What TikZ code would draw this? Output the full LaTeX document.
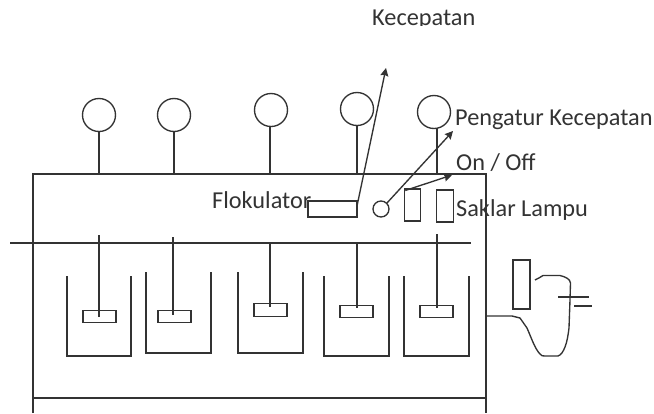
\documentclass[tikz,border=0pt]{standalone}
\usepackage{fontspec}
\setmainfont{Carlito}
\usetikzlibrary{arrows.meta}
\definecolor{ink}{HTML}{333333}
\tikzset{
  ln/.style={draw=ink,line width=1.35pt},
  knob/.style={circle,ln,minimum size=33pt,inner sep=0pt,outer sep=0pt},
  box/.style={rectangle,ln,inner sep=0pt,outer sep=0pt},
  paddle/.style={box,minimum width=33pt,minimum height=12.5pt},
  tall/.style={box,minimum width=16.5pt,minimum height=32pt},
  lamp/.style={circle,ln,minimum size=16pt,inner sep=0pt,outer sep=0pt},
  lbl/.style={anchor=base west,inner sep=0pt,text=ink,font=\fontsize{24.3}{26}\selectfont},
  arr/.style={ln,-{Stealth[length=8pt,width=8pt,inset=1pt]}},
}
\begin{document}
\begin{tikzpicture}[x=1pt,y=-1pt]
\useasboundingbox (0,0) rectangle (654,413);
\fill[white] (0,0) rectangle (654,413);
% cabinet
\draw[ln] (33,413) -- (33,174) -- (486,174) -- (486,413);
\draw[ln] (33,398) -- (486,398);
\draw[ln] (10,243) -- (471,243);
% knobs
\node[knob] (k1) at (99,115) {};
\node[knob] (k2) at (174,115) {};
\node[knob] (k3) at (271,110) {};
\node[knob] (k4) at (357,109) {};
\node[knob] (k5) at (434,112) {};
\coordinate (t1) at (99,174);
\coordinate (t2) at (174,174);
\coordinate (t3) at (270,174);
\coordinate (t4) at (357,174);
\coordinate (t5) at (437,174);
\draw[ln] (99,131.5) -- (t1);
\draw[ln] (174,131.5) -- (t2);
\draw[ln] (270,126.5) -- (t3);
\draw[ln] (357,125.5) -- (t4);
\draw[ln] (437,128) -- (t5);
% beakers
\draw[ln] (67,276) -- (67,356) -- (131,356) -- (131,276);
\draw[ln] (146,272) -- (146,353) -- (211,353) -- (211,272);
\draw[ln] (238,272) -- (238,353) -- (303,353) -- (303,272);
\draw[ln] (324,276) -- (324,356) -- (389,356) -- (389,276);
\draw[ln] (404,276) -- (404,356) -- (469,356) -- (469,276);
% paddles
\node[paddle] (p1) at (99.5,316.5) {};
\node[paddle] (p2) at (174.5,316.5) {};
\node[paddle] (p3) at (270.5,310) {};
\node[paddle] (p4) at (356.5,311.5) {};
\node[paddle] (p5) at (436.5,311.5) {};
\coordinate (s1) at (99,235);
\coordinate (s2) at (173,237);
\coordinate (s3) at (270,243);
\coordinate (s4) at (357,243);
\coordinate (s5) at (437,234);
\draw[ln] (s1) -- (99,317);
\draw[ln] (s2) -- (173,315);
\draw[ln] (s3) -- (270,307);
\draw[ln] (s4) -- (357,308);
\draw[ln] (s5) -- (437,308);
% controls
\node[box,minimum width=49pt,minimum height=16pt] (flok) at (332.5,209) {};
\node[lamp] (onoff) at (381,209) {};
\node[tall] (sw1) at (412.5,205) {};
\node[tall] (sw2) at (445,206) {};
\coordinate (a1) at (386,68);
\coordinate (a2) at (453,131);
\coordinate (a3) at (452,175);
\draw[arr] (357,206) -- (a1);
\draw[arr] (onoff.45) -- (a2);
\draw[arr] (sw1.north west) ++(1,1.5) -- (a3);
% plug
\node[box,minimum width=17pt,minimum height=49pt] (plug) at (521.5,284.5) {};
\coordinate (cab) at (486,316);
\draw[ln,line join=round] (cab) -- (512,316) -- (520,318) -- (527,328) .. controls (531,337) and (535,349) .. (540,354)
  .. controls (541,356) and (543,356) .. (545,356) -- (558,356) .. controls (561,355) and (563,352) .. (565,347)
  .. controls (567,342) and (568,336) .. (569,328) -- (570,300) -- (570.5,283) .. controls (570,279) and (566,277) .. (560,275.5)
  -- (543,275.5) .. controls (540,277) and (538,279) .. (535,280);
\draw[ln] (558,297) -- (589,297);
\draw[ln] (574,306) -- (592,306);
% labels
\begin{scope}
\clip (300,0) rectangle (500,25.5);
\node[lbl] (lk) at (372,25) {Kecepatan};
\end{scope}
\node[lbl] (lp) at (455,125) {Pengatur Kecepatan};
\node[lbl] (lo) at (456,170) {On / Off};
\node[lbl] (ls) at (456,216) {Saklar Lampu};
\node[lbl] (lf) at (212,208) {Flokulator};
\end{tikzpicture}
\end{document}
